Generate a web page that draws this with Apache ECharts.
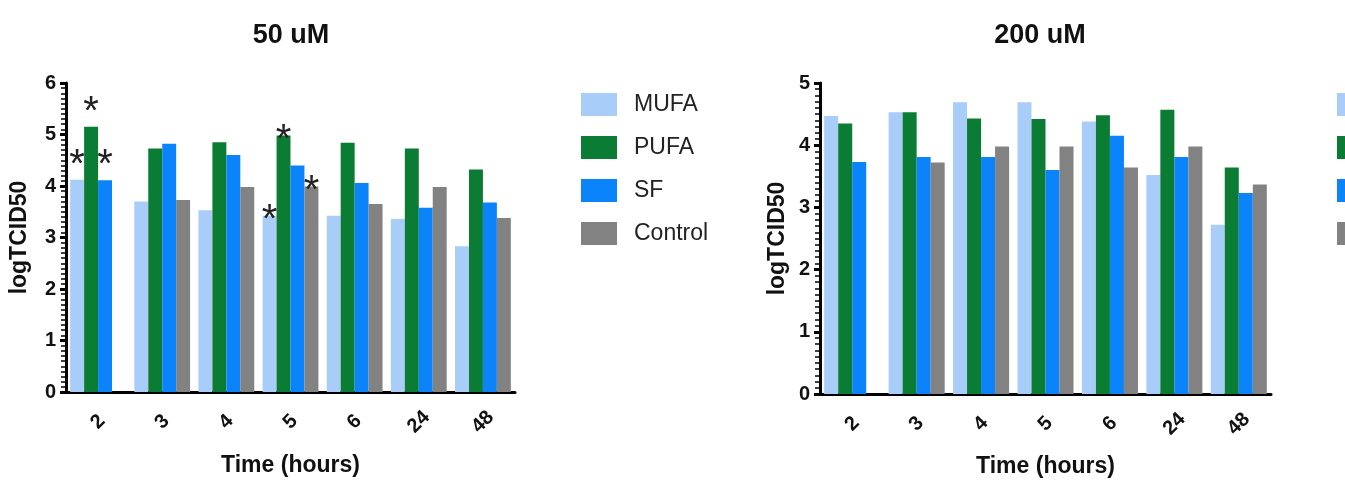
<!DOCTYPE html>
<html><head><meta charset="utf-8">
<script src="https://cdn.jsdelivr.net/npm/echarts@6.0.0/dist/echarts.min.js"></script>
<style>html,body{margin:0;padding:0;background:#fff}#c{width:1345px;height:486px}</style>
</head><body><div id="c"></div>
<script>
const categories = ['2','3','4','5','6','24','48'];
const seriesNames = ['MUFA','PUFA','SF','Control'];
// 50 uM
const mufa50 = [4.12, 3.70, 3.53, 3.42, 3.42, 3.36, 2.83];
const pufa50 = [5.15, 4.73, 4.85, 4.98, 4.84, 4.73, 4.32];
const sf50   = [4.11, 4.82, 4.60, 4.40, 4.06, 3.58, 3.68];
const ctrl50 = [null, 3.73, 3.98, 3.99, 3.65, 3.98, 3.38];
// 200 uM
const mufa200 = [4.47, 4.53, 4.69, 4.69, 4.38, 3.52, 2.72];
const pufa200 = [4.35, 4.53, 4.43, 4.42, 4.48, 4.57, 3.64];
const sf200   = [3.73, 3.81, 3.81, 3.60, 4.15, 3.81, 3.23];
const ctrl200 = [null, 3.72, 3.98, 3.98, 3.64, 3.98, 3.37];
// significance marks (50 uM): category indices per series
const stars50 = { MUFA: [0, 3], PUFA: [0, 3], SF: [0], Control: [3] };
const yTicks50 = [0,1,2,3,4,5,6];
const yTicks200 = [0,1,2,3,4,5];

const colors = { MUFA: '#a8cdf8', PUFA: '#0a7c33', SF: '#0a83fb', Control: '#828282' };
const FONT = 'Liberation Sans, Arial, Helvetica, sans-serif';
// style only: label distance of the star above its bar, by category index
const starDist = { 0: -6, 3: -25 };

function makeData(vals, starred) {
  return vals.map((v, i) => {
    if (v === null) return '-';
    if (starred && starred.includes(i)) {
      return { value: v, label: { show: true, formatter: '*', position: 'top',
        distance: starDist[i] !== undefined ? starDist[i] : 0,
        fontSize: 40, lineHeight: 40, color: '#222', fontFamily: FONT } };
    }
    return v;
  });
}

const sets50 = { MUFA: mufa50, PUFA: pufa50, SF: sf50, Control: ctrl50 };
const sets200 = { MUFA: mufa200, PUFA: pufa200, SF: sf200, Control: ctrl200 };

function xAxis(gi, nameGap) {
  return {
    type: 'category', gridIndex: gi, data: categories,
    name: 'Time (hours)', nameLocation: 'middle', nameGap: nameGap,
    nameTextStyle: { fontFamily: FONT, fontWeight: 'bold', fontSize: 23, color: '#111' },
    axisLine: { lineStyle: { color: '#000', width: 3 } },
    axisTick: { alignWithLabel: true, length: 8, lineStyle: { color: '#000', width: 3 } },
    axisLabel: { rotate: 45, margin: 30, align: 'center', verticalAlign: 'middle',
      fontFamily: FONT, fontWeight: 'bold', fontSize: 20, color: '#111' }
  };
}
function yAxis(gi, ticks, nameGap) {
  return {
    type: 'value', gridIndex: gi, min: ticks[0], max: ticks[ticks.length - 1], interval: 1,
    name: 'logTCID50', nameLocation: 'middle', nameGap: nameGap,
    nameTextStyle: { fontFamily: FONT, fontWeight: 'bold', fontSize: 23, color: '#111' },
    axisLine: { show: true, lineStyle: { color: '#000', width: 3 } },
    axisTick: { show: true, length: 6, lineStyle: { color: '#000', width: 3 } },
    minorTick: { show: true, splitNumber: 10, length: 5, lineStyle: { color: '#000', width: 1.5 } },
    splitLine: { show: false },
    axisLabel: { margin: 10, fontFamily: FONT, fontWeight: 'bold', fontSize: 20, color: '#111' }
  };
}

const series = [];
seriesNames.forEach(n => {
  series.push({ name: n, type: 'bar', xAxisIndex: 0, yAxisIndex: 0,
    data: makeData(sets50[n], stars50[n]), itemStyle: { color: colors[n] },
    barGap: '0%', barCategoryGap: '13%', animation: false });
});
seriesNames.forEach(n => {
  series.push({ name: n, type: 'bar', xAxisIndex: 1, yAxisIndex: 1,
    data: makeData(sets200[n], null), itemStyle: { color: colors[n] },
    barGap: '0%', barCategoryGap: '13%', animation: false });
});

function legend(left) {
  return {
    data: seriesNames, orient: 'vertical', left: left, top: 93, padding: 0,
    itemWidth: 36, itemHeight: 23, itemGap: 20, icon: 'rect',
    textStyle: { fontFamily: FONT, fontSize: 23, color: '#222', padding: [0, 0, 0, 12] }
  };
}

const chart = echarts.init(document.getElementById('c'), null, { renderer: 'canvas' });
chart.setOption({
  animation: false,
  backgroundColor: '#fff',
  title: [
    { text: '50 uM', left: 286, top: 17, textAlign: 'center',
      textStyle: { fontFamily: FONT, fontWeight: 'bold', fontSize: 27, color: '#111' } },
    { text: '200 uM', left: 1035, top: 17, textAlign: 'center',
      textStyle: { fontFamily: FONT, fontWeight: 'bold', fontSize: 27, color: '#111' } }
  ],
  legend: [legend(581), legend(1337)],
  grid: [
    { left: 66, top: 83, width: 449, height: 309 },
    { left: 820, top: 83, width: 451, height: 311 }
  ],
  xAxis: [xAxis(0, 62), xAxis(1, 61)],
  yAxis: [yAxis(0, yTicks50, 35), yAxis(1, yTicks200, 31)],
  series: series
});
</script></body></html>
